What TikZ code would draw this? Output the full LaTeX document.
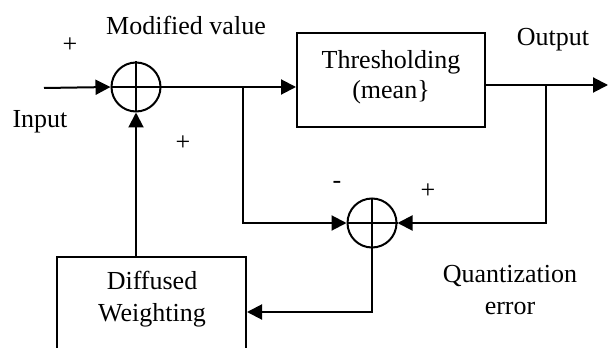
\documentclass[tikz,border=0pt]{standalone}
\usepackage{fontspec}
\setmainfont{Liberation Serif}
\usetikzlibrary{arrows.meta}
\begin{document}
\begin{tikzpicture}[x=0.5pt,y=-0.5pt,
  line width=1pt,
  sumnode/.style={circle,draw,minimum size=24.5pt,inner sep=0pt},
  blockbox/.style={draw,rectangle,inner sep=0pt},
  lbl/.style={font=\fontsize{13pt}{15pt}\selectfont,inner sep=0pt},
  arr/.style={-{Triangle[length=7.5pt,width=7.5pt]}}]
\useasboundingbox (0,0) rectangle (613,347);
\clip (0,0) rectangle (613,347);
% nodes
\node[sumnode] (s1) at (136,87) {};
\draw (s1.north) -- (s1.south) (s1.west) -- (s1.east);
\node[sumnode] (s2) at (372,223) {};
\draw (s2.north) -- (s2.south) (s2.west) -- (s2.east);
\node[blockbox,minimum width=94pt,minimum height=47pt] (thr) at (391,80) {};
\node[lbl,align=center] (thrtxt) at (391,77) {Thresholding\\[0pt](mean\}};
\node[blockbox,minimum width=94.5pt,minimum height=55pt] (diff) at (151.5,312) {};
\node[lbl,align=center,font=\fontsize{13pt}{16pt}\selectfont] (difftxt) at (152,299) {Diffused\\Weighting};
% coordinates
\coordinate (in) at (44,88);
\coordinate (b1) at (243,88);
\coordinate (out) at (608,85);
\coordinate (b2) at (546,85);
% connectors
\draw[arr] (in) -- (s1.west);
\draw[arr] (s1.east) -- (s1.east -| thr.west);
\draw[arr] (out -| thr.east) -- (out);
\draw[arr] (b1) |- (s2.west);
\draw[arr] (b2) |- (s2.east);
\draw[arr] (s2.south) |- (diff.east);
\draw[arr] (s1.south |- diff.north) -- (s1.south);
% labels
\node[lbl] (p1) at (70,45) {+};
\node[lbl] (mv) at (186,25) {Modified value};
\node[lbl] (inl) at (40,122) {Input};
\node[lbl] (p2) at (183,143) {+};
\node[lbl] (outl) at (553,40) {Output};
\node[lbl] (m3) at (337,185) {-};
\node[lbl] (p3) at (428,191) {+};
\node[lbl,align=center,font=\fontsize{13pt}{16pt}\selectfont] (qe) at (510,290) {Quantization\\error};
\end{tikzpicture}
\end{document}
